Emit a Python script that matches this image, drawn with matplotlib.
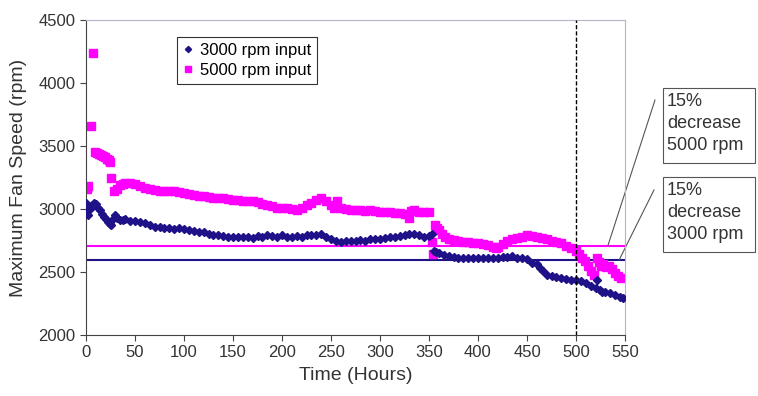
import matplotlib
matplotlib.use("Agg")
import matplotlib.pyplot as plt
from matplotlib.patches import Rectangle

plt.rcParams['font.family'] = ['Liberation Sans', 'DejaVu Sans']

# 3000 rpm input (hours, rpm)
t_3000 = [0, 1, 2, 4, 6, 8, 10, 12, 14, 16, 18, 20, 22, 24, 26, 28, 30, 32, 35, 38,
          40, 45, 50, 55, 60, 65, 70, 75, 80, 85, 90, 95, 100, 105, 110, 115, 120, 125,
          130, 135, 140, 145, 150, 155, 160, 165, 170, 175, 180, 185, 190, 195, 200,
          205, 210, 215, 220, 225, 230, 235, 240, 245, 250, 255, 260, 265, 270, 275,
          280, 285, 290, 295, 300, 305, 310, 315, 320, 325, 330, 335, 340, 345, 350,
          353, 355, 357, 360, 365, 370, 375, 380, 385, 390, 395, 400, 405, 410, 415,
          420, 425, 430, 435, 440, 445, 450, 455, 460, 463, 466, 470, 475, 480, 485,
          490, 495, 500, 505, 510, 515, 520, 521, 524, 527, 530, 535, 540, 545, 548]
rpm_3000 = [3045, 2990, 2955, 3000, 3030, 3050, 3040, 3010, 2990, 2960, 2940, 2920, 2900,
            2880, 2870, 2920, 2950, 2930, 2910, 2915, 2920, 2905, 2905, 2895, 2885, 2875,
            2860, 2855, 2850, 2850, 2845, 2850, 2840, 2830, 2825, 2815, 2815, 2800, 2795,
            2790, 2785, 2780, 2780, 2780, 2775, 2780, 2770, 2785, 2780, 2790, 2785, 2780,
            2790, 2780, 2775, 2785, 2780, 2790, 2795, 2790, 2805, 2780, 2760, 2750, 2740,
            2745, 2750, 2745, 2755, 2750, 2760, 2765, 2765, 2770, 2775, 2780, 2785, 2795,
            2805, 2800, 2790, 2780, 2785, 2800, 2665, 2660, 2650, 2635, 2625, 2620, 2615,
            2615, 2610, 2610, 2610, 2615, 2610, 2612, 2615, 2618, 2620, 2625, 2615, 2610,
            2600, 2575, 2560, 2530, 2505, 2480, 2470, 2460, 2455, 2445, 2440, 2435, 2425,
            2415, 2390, 2375, 2435, 2360, 2345, 2340, 2330, 2315, 2300, 2290]

# 5000 rpm input (hours, rpm)
t_5000 = [1, 2, 5, 7, 9, 11, 13, 15, 17, 19, 21, 23, 24, 26, 29, 32, 35, 38, 40, 45,
          50, 55, 60, 65, 70, 75, 80, 85, 90, 95, 100, 105, 110, 115, 120, 125, 130,
          135, 140, 145, 150, 155, 160, 165, 170, 175, 180, 185, 190, 195, 200, 205,
          210, 215, 220, 225, 230, 235, 240, 245, 250, 253, 256, 260, 265, 270, 275,
          280, 285, 290, 295, 300, 305, 310, 315, 320, 325, 330, 332, 335, 340, 345,
          350, 353, 354, 356, 358, 360, 363, 366, 370, 375, 380, 385, 390, 395, 400,
          405, 410, 415, 418, 420, 425, 430, 435, 440, 445, 450, 455, 460, 465, 470,
          475, 480, 485, 490, 495, 500, 503, 506, 509, 512, 515, 518, 521, 523, 525,
          528, 531, 534, 537, 540, 543, 546]
rpm_5000 = [3160, 3185, 3655, 4240, 3450, 3445, 3440, 3430, 3420, 3410, 3400, 3385, 3370,
            3250, 3145, 3160, 3190, 3200, 3210, 3205, 3195, 3185, 3170, 3160, 3150, 3145,
            3140, 3140, 3140, 3135, 3130, 3120, 3110, 3100, 3100, 3095, 3090, 3090, 3085,
            3080, 3075, 3070, 3065, 3060, 3060, 3055, 3040, 3030, 3020, 3010, 3005, 3010,
            3000, 2995, 3005, 3030, 3045, 3070, 3090, 3060, 3030, 3010, 3060, 3010, 3000,
            2995, 2995, 2990, 2985, 2990, 2985, 2980, 2975, 2975, 2965, 2965, 2960, 2930,
            2985, 2990, 2980, 2980, 2975, 2740, 2640, 2870, 2850, 2830, 2800, 2780, 2765,
            2755, 2745, 2740, 2735, 2730, 2730, 2725, 2715, 2700, 2690, 2695, 2720, 2745,
            2760, 2770, 2780, 2790, 2785, 2780, 2770, 2760, 2745, 2740, 2730, 2710, 2690,
            2665, 2640, 2615, 2590, 2545, 2510, 2480, 2610, 2580, 2545, 2560, 2540, 2550,
            2520, 2495, 2470, 2455]

limit_5000 = 2710
limit_3000 = 2595
marker_hour = 500

blue = '#1f1289'
magenta = '#ff00ff'
text_col = '#333333'

fig = plt.figure(figsize=(7.58, 3.96), dpi=100)
ax = fig.add_axes([86 / 758, 61 / 396, 539 / 758, 315 / 396])

ax.axhline(limit_5000, color=magenta, lw=1.5, zorder=1)
ax.axhline(limit_3000, color=blue, lw=1.5, zorder=1)
ax.plot(t_5000, rpm_5000, ls='none', marker='s', ms=5.5, color=magenta,
        mec=magenta, label='5000 rpm input', zorder=2)
ax.plot(t_3000, rpm_3000, ls='none', marker='D', ms=4.2, color=blue,
        mec=blue, label='3000 rpm input', zorder=3)
ax.axvline(marker_hour, color='black', lw=1, ls=(0, (3, 1.5)), zorder=4)

ax.set_xlim(0, 550)
ax.set_ylim(2000, 4500)
ax.set_xticks(range(0, 551, 50))
ax.set_yticks(range(2000, 4501, 500))
ax.tick_params(direction='out', length=4, labelsize=12, labelcolor=text_col,
               color='#444444')
ax.set_xlabel('Time (Hours)', fontsize=14, color=text_col, labelpad=5)
ax.set_ylabel('Maximum Fan Speed (rpm)', fontsize=14, color=text_col, labelpad=8)
for side in ['top', 'right']:
    ax.spines[side].set_color('#b4b4cc')
for side in ['left', 'bottom']:
    ax.spines[side].set_color('#444444')

handles, labels = ax.get_legend_handles_labels()
leg = ax.legend(handles[::-1], labels[::-1], loc='upper left',
                bbox_to_anchor=(0.169, 0.946), borderaxespad=0, fontsize=12,
                fancybox=False, framealpha=1, edgecolor='#333333', handlelength=0.6,
                handletextpad=0.4, borderpad=0.35, labelspacing=0.3, markerscale=0.75)
leg.get_frame().set_linewidth(0.8)

# callout boxes
for y_top, txt in [(88, '15%\ndecrease\n5000 rpm'), (177, '15%\ndecrease\n3000 rpm')]:
    fig.patches.append(Rectangle((663 / 758, 1 - (y_top + 75) / 396), 92 / 758, 75 / 396,
                                 transform=fig.transFigure, fill=False,
                                 edgecolor='#555555', lw=0.8))
    fig.text(667 / 758, 1 - (y_top + 5) / 396, txt, fontsize=13, color=text_col,
             va='top', ha='left', linespacing=1.4)

ax.plot([580.6, 532.6], [3865, limit_5000], color='#555555', lw=0.8, clip_on=False)
ax.plot([579.6, 544], [3151, limit_3000], color='#555555', lw=0.8, clip_on=False)

fig.savefig('out.png', dpi=100)
